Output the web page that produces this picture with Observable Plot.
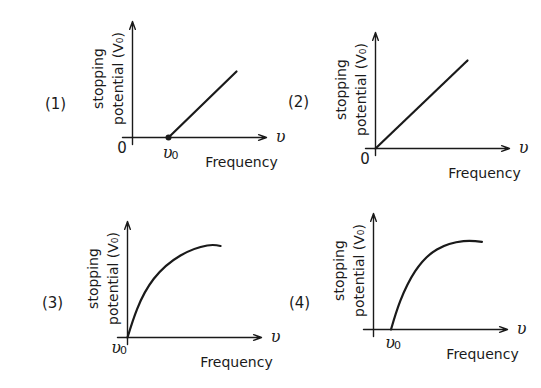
<!DOCTYPE html>
<html><head><meta charset="utf-8">
<script src="https://cdn.jsdelivr.net/npm/d3@7"></script>
<script src="https://cdn.jsdelivr.net/npm/@observablehq/plot@0.6"></script>
<style>
html,body{margin:0;padding:0;background:#fff;overflow:hidden}
#chart{position:relative;width:541px;height:388px;background:#fff}
#chart svg{position:absolute;background:transparent}
</style></head><body><div id="chart"></div>
<script>
// ---- data ----
const panelLabels = ["(1)", "(2)", "(3)", "(4)"];
const yLabelLines = ["stopping", "potential (V₀)"];
const xLabel = "Frequency";
const xSymbol = "υ";
const thresholdSymbol = ["υ", "0"];           // υ with subscript 0
const thresholds = [3.6, 0, 0, 1.75];         // υ0 on each panel
const originZero = [true, true, false, false]; // "0" written at origin
const thresholdShown = [true, false, true, true];

const freq1 = [3.6, 10.4];
const pot1  = [0, 6.6];
const freq2 = [0, 9.2];
const pot2  = [0, 8.8];
const freq3 = [0, 0.97, 2.63, 5.3, 7.97, 9.3];
const pot3  = [0, 2.87, 5.87, 8.2, 9.2, 9.15];
const freq4 = [1.75, 2.67, 4.17, 6.34, 9.0, 10.84];
const pot4  = [0, 2.83, 5.83, 8.0, 8.83, 8.76];

const curves = [[freq1, pot1], [freq2, pot2], [freq3, pot3], [freq4, pot4]];
const showDot = [true, false, false, false];

// ---- layout (pixel placement of each panel and its label) ----
const layout = [
  {left: 32, top: 7, lx: -7.7, ly: 3.3, th: -1.5},
  {left: 275, top: 18, lx: -7.7, ly: 4.6, th: -1.5},
  {left: 27, top: 207, lx: -7.5, ly: 3.4, th: -1.0},
  {left: 273, top: 199, lx: -7.4, ly: 2.6, th: -1.3}
];

const font = "DejaVu Sans";
const symFont = "DejaVu Serif";
const ink = "#1a1a1a";
const root = document.getElementById("chart");

curves.forEach(([fx, py], i) => {
  const L = layout[i];
  const pts = fx.map((f, k) => ({f, v: py[k]}));
  const axes = [
    {x1: -1.0, y1: 0, x2: 13.4, y2: 0},
    {x1: 0, y1: -0.7, x2: 0, y2: 11.6}
  ];
  const zeroTexts = originZero[i] ? [{x: -1.05, y: -1.05, t: "0"}] : [];
  const symX = thresholds[i] === 0 ? -1.15 : thresholds[i] - 0.1;
  const thr = thresholdShown[i] ? [{x: symX, y: L.th}] : [];
  const plot = Plot.plot({
    width: 260, height: 180,
    marginLeft: 0, marginRight: 0, marginTop: 0, marginBottom: 0,
    x: {domain: [-10, 16], axis: null},
    y: {domain: [-5, 13], axis: null},
    style: {fontFamily: font, background: "transparent", overflow: "visible"},
    marks: [
      Plot.arrow(axes, {x1: "x1", y1: "y1", x2: "x2", y2: "y2", stroke: ink, strokeWidth: 1.4, headLength: 9, headAngle: 40}),
      Plot.line(pts, {x: "f", y: "v", stroke: ink, strokeWidth: 2.2, curve: "natural"}),
      showDot[i] ? Plot.dot([pts[0]], {x: "f", y: "v", r: 3, fill: ink}) : null,
      Plot.text(zeroTexts, {x: "x", y: "y", text: "t", fontSize: 15, fill: ink}),
      Plot.text(thr, {x: "x", y: "y", text: () => thresholdSymbol[0], fontSize: 16, fontStyle: "italic", fontFamily: symFont, fill: ink}),
      Plot.text(thr, {x: d => d.x + 0.75, y: d => d.y - 0.3, text: () => thresholdSymbol[1], fontSize: 11, fill: ink}),
      Plot.text([panelLabels[i]], {x: [L.lx], y: [L.ly], text: d => d, fontSize: 15, fill: ink}),
      Plot.text([yLabelLines[0]], {x: [-3.4], y: [5.9], text: d => d, rotate: -90, fontSize: 14, fill: ink}),
      Plot.text([yLabelLines[1]], {x: [-1.4], y: [5.9], text: d => d, rotate: -90, fontSize: 14, fill: ink}),
      Plot.text([xLabel], {x: [10.9], y: [-2.55], text: d => d, fontSize: 14, fill: ink}),
      Plot.text([xSymbol], {x: [14.8], y: [0.1], text: d => d, fontSize: 16, fontStyle: "italic", fontFamily: symFont, fill: ink})
    ]
  });
  plot.style.left = L.left + "px";
  plot.style.top = L.top + "px";
  root.appendChild(plot);
});
</script></body></html>
